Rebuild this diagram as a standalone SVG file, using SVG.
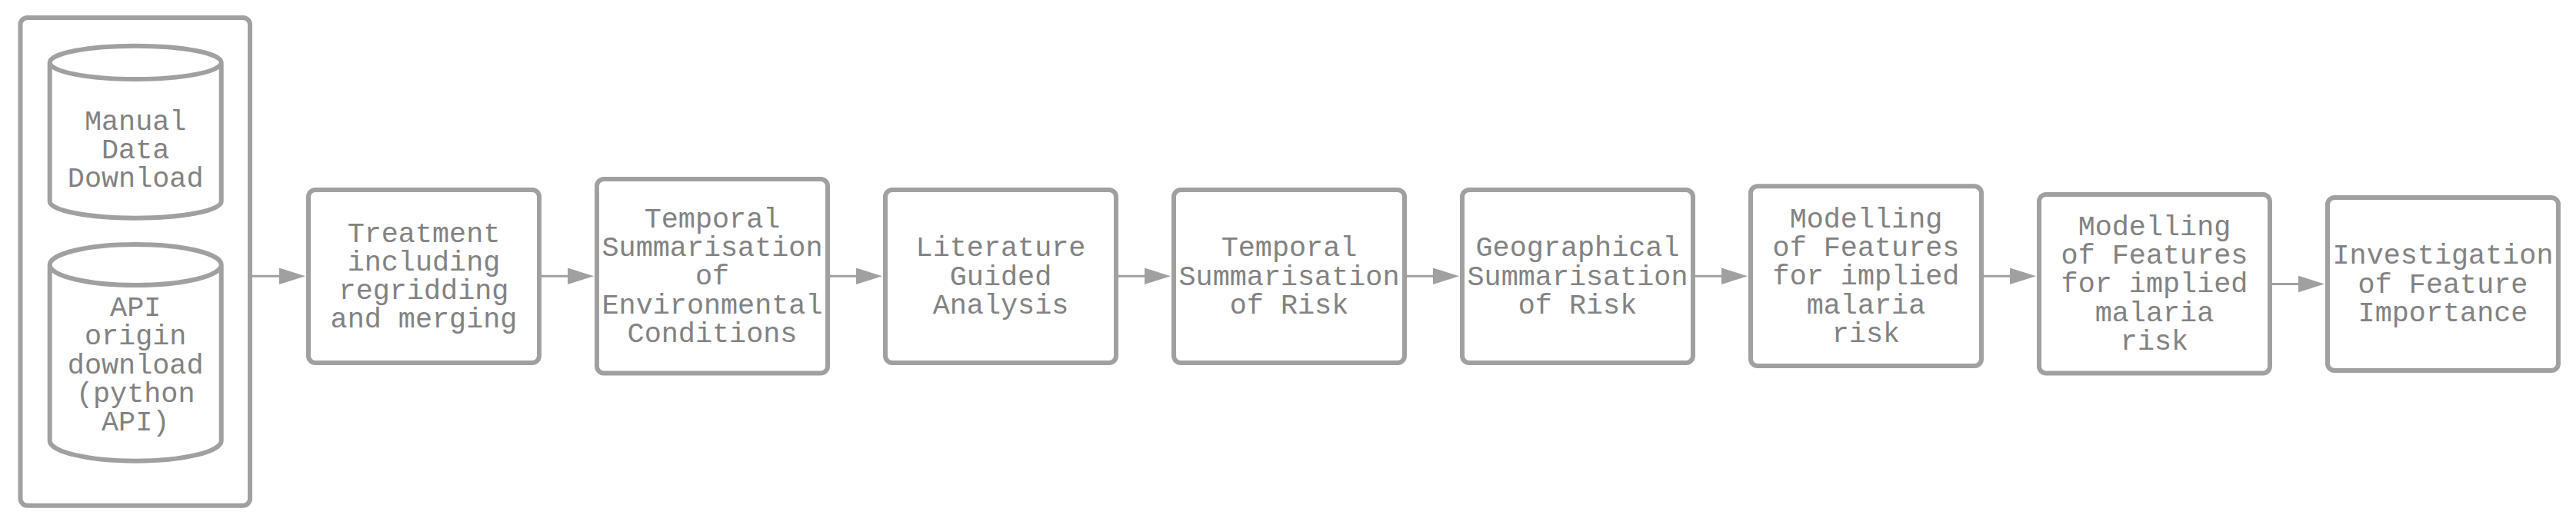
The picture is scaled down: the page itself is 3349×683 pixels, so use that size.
<svg xmlns="http://www.w3.org/2000/svg" width="3349" height="683" viewBox="0 0 3349 683">
<style>
  .bg { fill: #ffffff; }
  .box { fill: #ffffff; stroke: #a0a0a0; stroke-width: 6; }
  .cyl { fill: #ffffff; stroke: #a0a0a0; stroke-width: 6; }
  .edge { fill: none; stroke: #a0a0a0; stroke-width: 3; }
  .lbl { font-family: "Liberation Mono", "Courier New", monospace; font-size: 36.8px; fill: #828282; text-anchor: middle; }
</style>
<defs>
  <marker id="arrow" markerUnits="userSpaceOnUse" markerWidth="35" markerHeight="22" refX="14" refY="10.8" orient="auto">
    <path d="M0,0 L34,10.8 L0,21.6 Z" fill="#a0a0a0"/>
  </marker>
</defs>
<rect class="bg" x="0" y="0" width="3349" height="683"/>

<g id="sources">
  <rect class="box" x="26.5" y="23" width="298.5" height="634.7" rx="9"/>
  <g id="manual">
    <path class="cyl" d="M64.7,81.35 A111.5,21.65 0 0,1 287.7,81.35 A111.5,21.65 0 0,1 64.7,81.35 M64.7,81.35 L64.7,262 A111.5,21.65 0 0,0 287.7,262 L287.7,81.35"/>
    <text class="lbl"><tspan x="176.2" y="168.5">Manual</tspan><tspan x="176.2" y="205.8">Data</tspan><tspan x="176.2" y="243.1">Download</tspan></text>
  </g>
  <g id="api">
    <path class="cyl" d="M64.7,344.5 A111.5,26.5 0 0,1 287.7,344.5 A111.5,26.5 0 0,1 64.7,344.5 M64.7,344.5 L64.7,573.2 A111.5,26.5 0 0,0 287.7,573.2 L287.7,344.5"/>
    <text class="lbl"><tspan x="176.2" y="411">API</tspan><tspan x="176.2" y="448.3">origin</tspan><tspan x="176.2" y="485.6">download</tspan><tspan x="176.2" y="522.9">(python</tspan><tspan x="176.2" y="560.2">API)</tspan></text>
  </g>
</g>

<g id="connectors">
  <path class="edge" d="M328,359.3 L377,359.3" marker-end="url(#arrow)"/>
  <path class="edge" d="M704,359.3 L752,359.3" marker-end="url(#arrow)"/>
  <path class="edge" d="M1079,359.3 L1127,359.3" marker-end="url(#arrow)"/>
  <path class="edge" d="M1454,359.3 L1502,359.3" marker-end="url(#arrow)"/>
  <path class="edge" d="M1829,359.3 L1877,359.3" marker-end="url(#arrow)"/>
  <path class="edge" d="M2204,359.3 L2252,359.3" marker-end="url(#arrow)"/>
  <path class="edge" d="M2579,359.3 L2627,359.3" marker-end="url(#arrow)"/>
  <path class="edge" d="M2954,369.5 L3002,369.5" marker-end="url(#arrow)"/>
</g>

<g id="treatment">
  <rect class="box" x="401" y="247" width="300" height="225" rx="9"/>
  <text class="lbl"><tspan x="551" y="314.5">Treatment</tspan><tspan x="551" y="351.8">including</tspan><tspan x="551" y="389.1">regridding</tspan><tspan x="551" y="426.4">and merging</tspan></text>
</g>

<g id="temporal-env">
  <rect class="box" x="776" y="233" width="300" height="252.5" rx="9"/>
  <text class="lbl"><tspan x="926" y="295.6">Temporal</tspan><tspan x="926" y="332.9">Summarisation</tspan><tspan x="926" y="370.2">of</tspan><tspan x="926" y="407.5">Environmental</tspan><tspan x="926" y="444.8">Conditions</tspan></text>
</g>

<g id="literature">
  <rect class="box" x="1151" y="247" width="300" height="225" rx="9"/>
  <text class="lbl"><tspan x="1301" y="333.2">Literature</tspan><tspan x="1301" y="370.5">Guided</tspan><tspan x="1301" y="407.8">Analysis</tspan></text>
</g>

<g id="temporal-risk">
  <rect class="box" x="1526" y="247" width="300" height="225" rx="9"/>
  <text class="lbl"><tspan x="1676" y="333.2">Temporal</tspan><tspan x="1676" y="370.5">Summarisation</tspan><tspan x="1676" y="407.8">of Risk</tspan></text>
</g>

<g id="geographical">
  <rect class="box" x="1901" y="247" width="300" height="225" rx="9"/>
  <text class="lbl"><tspan x="2051" y="333.2">Geographical</tspan><tspan x="2051" y="370.5">Summarisation</tspan><tspan x="2051" y="407.8">of Risk</tspan></text>
</g>

<g id="modelling-1">
  <rect class="box" x="2276" y="242.3" width="300" height="233.8" rx="9"/>
  <text class="lbl"><tspan x="2426" y="295.6">Modelling</tspan><tspan x="2426" y="332.9">of Features</tspan><tspan x="2426" y="370.2">for implied</tspan><tspan x="2426" y="407.5">malaria</tspan><tspan x="2426" y="444.8">risk</tspan></text>
</g>

<g id="modelling-2">
  <rect class="box" x="2651" y="253" width="300" height="232.5" rx="9"/>
  <text class="lbl"><tspan x="2801" y="305.7">Modelling</tspan><tspan x="2801" y="343">of Features</tspan><tspan x="2801" y="380.3">for implied</tspan><tspan x="2801" y="417.6">malaria</tspan><tspan x="2801" y="454.9">risk</tspan></text>
</g>

<g id="investigation">
  <rect class="box" x="3026" y="257" width="300" height="225" rx="9"/>
  <text class="lbl"><tspan x="3176" y="343.2">Investigation</tspan><tspan x="3176" y="380.5">of Feature</tspan><tspan x="3176" y="417.8">Importance</tspan></text>
</g>
</svg>
